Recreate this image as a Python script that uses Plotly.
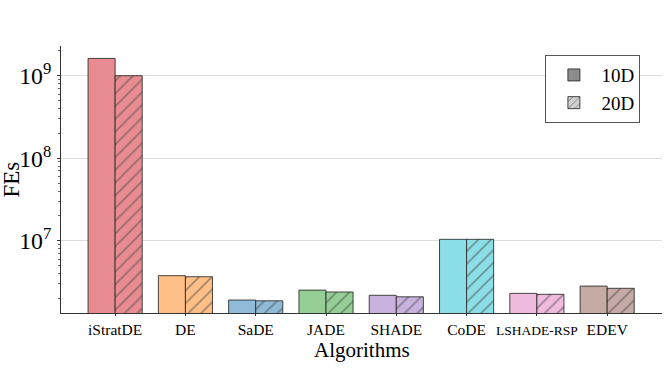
import plotly.graph_objects as go

algorithms = ["iStratDE", "DE", "SaDE", "JADE", "SHADE", "CoDE", "LSHADE-RSP", "EDEV"]
tick_labels = ["iStratDE", "DE", "SaDE", "JADE", "SHADE", "CoDE",
               '<span style="font-size:13.5px">LSHADE-RSP</span>', "EDEV"]
fes_10d = [1.62e9, 3.77e6, 1.91e6, 2.52e6, 2.18e6, 1.04e7, 2.30e6, 2.82e6]
fes_20d = [1.00e9, 3.66e6, 1.87e6, 2.39e6, 2.09e6, 1.04e7, 2.24e6, 2.65e6]
colors = ["#e98c91", "#ffbf86", "#8fbbd9", "#95cf95", "#c9b3de", "#8bdee7", "#f1bbe0", "#c5aaa5"]

font_family = "Liberation Serif"
edge = "rgba(40,40,40,0.85)"

fig = go.Figure()
fig.add_trace(go.Bar(
    x=algorithms, y=fes_10d, name="10D", showlegend=False, offsetgroup="a",
    marker=dict(color=colors, line=dict(color=edge, width=1)),
))
fig.add_trace(go.Bar(
    x=algorithms, y=fes_20d, name="20D", showlegend=False, offsetgroup="b",
    marker=dict(color=colors, line=dict(color=edge, width=1),
                pattern=dict(shape="/", fgcolor="rgba(20,20,20,0.95)", size=9, solidity=0.18)),
))
# legend proxies
fig.add_trace(go.Bar(
    x=[None], y=[None], name="10D", offsetgroup="a",
    marker=dict(color="#8c8c8c", line=dict(color=edge, width=1)),
))
fig.add_trace(go.Bar(
    x=[None], y=[None], name="20D", offsetgroup="b",
    marker=dict(color="#d0d0d0", line=dict(color=edge, width=1),
                pattern=dict(shape="/", fgcolor="rgba(50,50,50,0.95)", size=6, solidity=0.2)),
))

fig.update_layout(
    width=665, height=368,
    margin=dict(l=61, r=3, t=46, b=55),
    paper_bgcolor="white", plot_bgcolor="white",
    barmode="group", bargap=0.23, bargroupgap=0,
    font=dict(family=font_family, color="black"),
    legend=dict(
        x=0.806, y=0.966, xanchor="left", yanchor="top",
        bgcolor="white", bordercolor="#555", borderwidth=1,
        font=dict(size=19, family=font_family),
        itemwidth=45, tracegroupgap=3,
    ),
    xaxis=dict(
        type="category", range=[-0.77, 7.78], automargin=False,
        tickvals=algorithms, ticktext=tick_labels,
        showline=True, linecolor="#333", linewidth=1,
        ticks="outside", ticklen=2, tickcolor="#333",
        tickfont=dict(size=15.5, family=font_family),
        showgrid=False,
    ),
    yaxis=dict(
        type="log", range=[6.124, 9.36], dtick=1, exponentformat="power", automargin=False,
        showline=True, linecolor="#333", linewidth=1,
        ticks="outside", ticklen=3, tickcolor="#333", ticklabelstandoff=2,
        tickfont=dict(size=19, family=font_family),
        showgrid=True, gridcolor="#dcdcdc", gridwidth=1,
        minor=dict(ticks="outside", ticklen=2, tickcolor="#666", showgrid=False),
        zeroline=False,
    ),
    annotations=[
        dict(text="FEs", xref="paper", yref="paper", x=-0.083, y=0.5,
             xanchor="center", yanchor="middle", textangle=-90, showarrow=False,
             font=dict(size=23, family=font_family)),
        dict(text="Algorithms", xref="paper", yref="paper", x=0.5, y=-0.137,
             xanchor="center", yanchor="middle", showarrow=False,
             font=dict(size=21, family=font_family)),
    ],
)

fig.write_html("out.html", config={"displayModeBar": False},
               post_script="document.body.style.margin='0';document.body.style.overflow='hidden';")
